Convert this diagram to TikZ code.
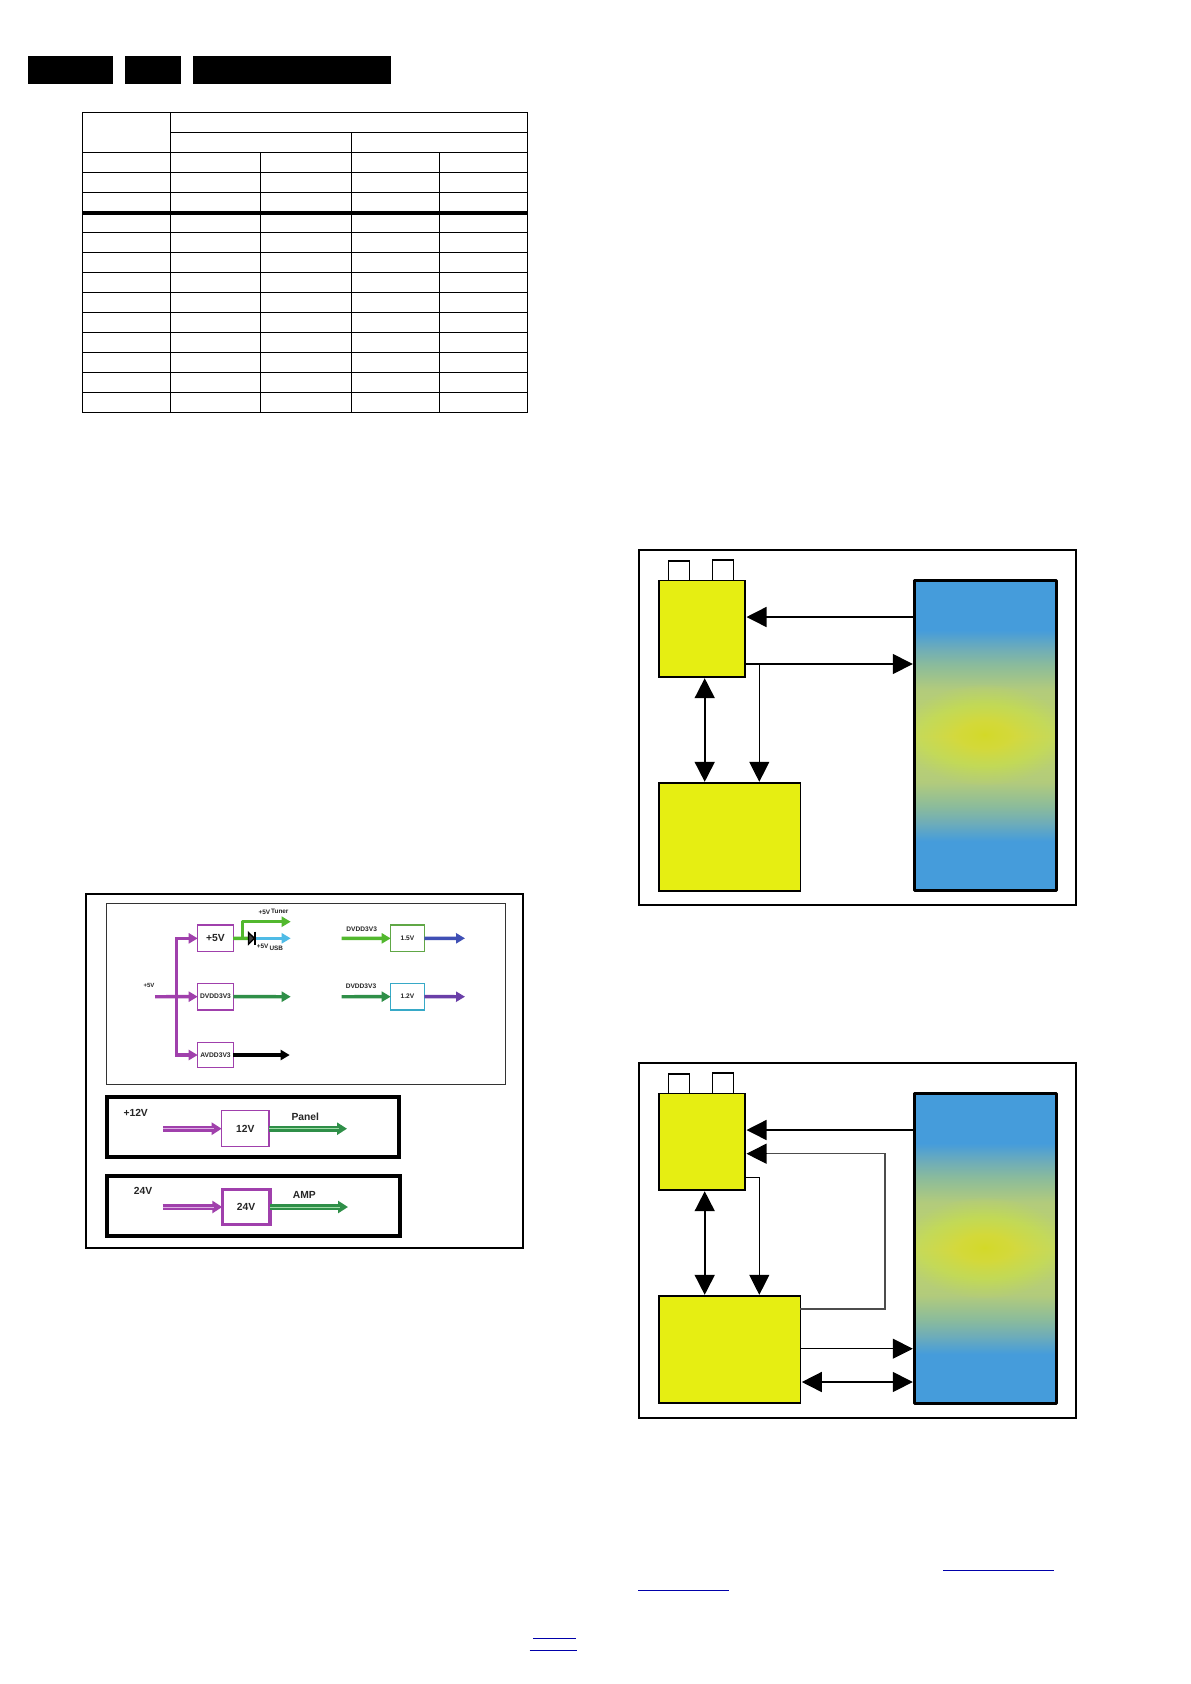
\documentclass[tikz,border=0pt]{standalone}
\usepackage{fontspec}
\setmainfont{Liberation Sans}
\usetikzlibrary{arrows.meta}
\definecolor{yel}{HTML}{E6EE12}
\definecolor{blu}{HTML}{459CDB}
\definecolor{gA}{HTML}{6FADB8}
\definecolor{gB}{HTML}{8ABB9C}
\definecolor{gC}{HTML}{B2CB7C}
\definecolor{gD}{HTML}{C2D666}
\definecolor{glowc}{HTML}{F2F81A}
\definecolor{pur}{HTML}{A040AC}
\definecolor{pale}{HTML}{DDB0E4}
\definecolor{grA}{HTML}{52B82E}
\definecolor{grB}{HTML}{2F8F48}
\definecolor{paleg}{HTML}{A0DCA8}
\definecolor{cya}{HTML}{4FBBE6}
\definecolor{bluo}{HTML}{3F4FB5}
\definecolor{puro}{HTML}{6A3FA8}
\definecolor{linkb}{HTML}{0000AA}
\pgfdeclareverticalshading{panelgrad}{100bp}{color(0bp)=(blu);color(33bp)=(blu);color(36bp)=(gA);color(38.5bp)=(gB);color(42.5bp)=(gC);color(50bp)=(gD);color(57.5bp)=(gC);color(61.5bp)=(gB);color(64bp)=(gA);color(67bp)=(blu);color(100bp)=(blu)}
\newcommand{\pxbox}[6]{\node[#1,inner sep=0pt,outer sep=0pt,minimum width={(#5-#3)*1pt},minimum height={(#6-#4)*1pt}] (#2) at ({(#3+#5)/2},{(#4+#6)/2}) {};}
\newcommand{\pxtext}[7]{\node[#1,inner sep=0pt,outer sep=0pt,minimum width={(#5-#3)*1pt},minimum height={(#6-#4)*1pt}] (#2) at ({(#3+#5)/2},{(#4+#6)/2}) {#7};}
\newcommand{\glow}[3]{%
 \begin{scope}
 \clip (#1.south west) rectangle (#1.north east);
 \foreach \i in {1,...,40}{
  \pgfmathsetmacro{\rx}{80*(\i/40)^1.7}
  \pgfmathsetmacro{\ry}{50*(\i/40)^1.7}
  \fill[glowc,opacity=.032] (#2,#3) ellipse [x radius=\rx pt,y radius=\ry pt];
 }
 \end{scope}
 \draw[line width=2.6pt,line join=round,black] (#1.south west) rectangle (#1.north east);
}
\tikzset{
 headbar/.style={fill=black,draw=none},
 frame/.style={draw=black,line width=1.7pt,fill=white},
 thinframe/.style={draw=black!80,line width=1.3pt,fill=white},
 heavyframe/.style={draw=black,line width=4pt,fill=white},
 ybox/.style={draw=black,line width=1.5pt,fill=yel},
 tabbox/.style={draw=black,line width=1.2pt,fill=white},
 panelbox/.style={shading=panelgrad,draw=none},
 cell/.style={line width=1pt,black},
 big/.style={-{Triangle[length=20pt,width=20pt]},black},
 bigboth/.style={{Triangle[length=20pt,width=20pt]}-{Triangle[length=20pt,width=20pt]},black},
 vbox/.style={draw=pur,line width=1.1pt,fill=white},
 arr/.style={line width=3.4pt,-{Triangle[length=9pt,width=10pt]}},
 plain/.style={line width=3.4pt},
 dbl/.style={line width=6pt,-{Triangle[length=10pt,width=12pt]}},
 inner/.style={line width=.9pt},
 tiny/.style={font=\fontsize{6.6}{7}\selectfont\bfseries,text=black!85},
 mid/.style={font=\fontsize{10.3}{11}\selectfont\bfseries,text=black!85},
 link/.style={draw=linkb,line width=1pt},
}
\begin{document}
\begin{tikzpicture}[x=1pt,y=-1pt]
\useasboundingbox (0,0) rectangle (1191,1684);
\fill[white] (0,0) rectangle (1191,1684);
% header bars
\pxbox{headbar}{hA}{27.9}{56}{112.8}{84}
\pxbox{headbar}{hB}{124.6}{56}{180.6}{84}
\pxbox{headbar}{hC}{193.3}{56}{390.9}{84}
% table
\draw[cell] (82.7,112.3) rectangle (527.3,412.3);
\draw[cell] (170.8,132.3) -- (527.3,132.3);
\foreach \yy in {152.3,172.3,192.3,232.3,252.3,272.3,292.3,312.3,332.3,352.3,372.3,392.3}
  \draw[cell] (82.7,\yy) -- (527.3,\yy);
\draw[line width=3.6pt] (82.7,212.7) -- (527.3,212.7);
\draw[cell] (170.8,112.3) -- (170.8,412.3);
\draw[cell] (351.2,132.3) -- (351.2,412.3);
\draw[cell] (260,152.3) -- (260,412.3);
\draw[cell] (439.4,152.3) -- (439.4,412.3);
% ===== power diagram =====
\pxbox{frame}{pwr}{85.7}{894}{523.3}{1248}
\pxbox{thinframe}{pA}{106.7}{903.3}{505.7}{1084.3}
\pxbox{heavyframe}{pB}{107.3}{1096.7}{399.3}{1157.3}
\pxbox{heavyframe}{pC}{107.3}{1175.7}{400}{1235.7}
\pxtext{vbox,tiny,font=\fontsize{10.3}{11}\selectfont\bfseries}{b5}{197.7}{925}{233.3}{951.7}{+5V}
\pxtext{vbox,tiny,font=\fontsize{6.7}{7}\selectfont\bfseries}{bD}{197.7}{983.3}{233.3}{1010}{DVDD3V3}
\pxtext{vbox,tiny,font=\fontsize{6.7}{7}\selectfont\bfseries}{bV}{197.7}{1042.3}{233.3}{1067.7}{AVDD3V3}
\pxtext{vbox,draw=grA!70!gray,tiny}{bX}{390.7}{925}{424.3}{951.7}{1.5V}
\pxtext{vbox,draw=cya!70!teal,tiny}{bY}{390.7}{983.3}{424.3}{1010}{1.2V}
\pxtext{vbox,mid}{b12}{221.7}{1110.7}{269}{1146.7}{12V}
\pxtext{vbox,line width=3.5pt,mid}{b24}{222.3}{1189.3}{270}{1224.7}{24V}
\coordinate (in5) at (155,996.7);
\coordinate (trk) at (176.7,996.7);
\coordinate (jog) at (242.3,921.7);
\coordinate (tun) at (290.7,921.7);
\coordinate (dia) at (248,938.3);
\coordinate (dio) at (255,938.3);
\coordinate (usb) at (290.7,938.3);
\coordinate (oD) at (290.7,996.7);
\coordinate (oV) at (289.7,1055);
\coordinate (iX) at (341.7,938.3);
\coordinate (oX) at (465,938.3);
\coordinate (iY) at (341.7,996.7);
\coordinate (oY) at (465,996.7);
\coordinate (i12) at (163,1128.7);
\coordinate (o12) at (347,1128.7);
\coordinate (i24) at (162.7,1207);
\coordinate (o24) at (348,1207);
\draw[arr,pur] (in5) -- (bD.west);
\draw[arr,pur] (trk) |- (b5.west);
\draw[arr,pur] (trk) |- (bV.west);
\draw[plain,grA] (b5.east) -- (dia);
\draw[arr,grA,line join=round] (b5.east) -| (jog) -- (tun);
\draw[arr,cya] (dio) -- (usb);
\draw[fill=black!75,draw=black,line width=1.3pt] (248.5,932.5) -- (254.5,938.3) -- (248.5,944.1) -- cycle;
\draw[black,line width=1.8pt] (255.2,931.7) -- (255.2,945);
\draw[arr,grB] (bD.east) -- (oD);
\draw[arr,black] (bV.east) -- (oV);
\draw[arr,grA] (iX) -- (bX.west);
\draw[arr,bluo] (bX.east) -- (oX);
\draw[arr,grB] (iY) -- (bY.west);
\draw[arr,puro] (bY.east) -- (oY);
\draw[dbl,pur] (i12) -- (b12.west);
\draw[inner,pale] (i12) -- ([xshift=-8pt]b12.west);
\draw[dbl,grB] (b12.east) -- (o12);
\draw[inner,paleg] (b12.east) -- ([xshift=-8pt]o12);
\draw[dbl,pur] (i24) -- (b24.west);
\draw[inner,pale] (i24) -- ([xshift=-8pt]b24.west);
\draw[dbl,grB] (b24.east) -- (o24);
\draw[inner,paleg] (b24.east) -- ([xshift=-8pt]o24);
\node[tiny,font=\fontsize{6}{7}\selectfont\bfseries] (l5) at (149,985.7) {+5V};
\node[tiny,font=\fontsize{6.4}{7}\selectfont\bfseries,inner sep=0pt] (lT) at (273.5,912) {+5V\,\raisebox{1pt}{Tuner}};
\node[tiny,font=\fontsize{6.4}{7}\selectfont\bfseries,inner sep=0pt] (lU) at (270,947.5) {+5V\,\raisebox{-2pt}{USB}};
\node[tiny,inner sep=0pt] (lX) at (361.7,929) {DVDD3V3};
\node[tiny,inner sep=0pt] (lY) at (361,986) {DVDD3V3};
\node[mid,inner sep=0pt] (l12) at (135.7,1113) {+12V};
\node[mid,inner sep=0pt] (lP) at (305.3,1117) {Panel};
\node[mid,inner sep=0pt] (l24) at (143,1191) {24V};
\node[mid,inner sep=0pt] (lA) at (304.3,1195) {AMP};
% ===== block diagram 1 =====
\pxbox{frame}{fA}{639}{550}{1076}{905}
\pxbox{tabbox}{tA}{668.7}{561}{689.3}{580.7}
\pxbox{tabbox}{tB}{712.7}{560}{733.3}{580.7}
\pxbox{ybox}{yA}{659}{580.7}{745}{677}
\pxbox{ybox}{zA}{659}{783}{800.3}{891}
\pxbox{panelbox}{pnA}{914.3}{580.7}{1056.7}{890.7}
\glow{pnA}{985}{735}
\draw[big,line width=1.4pt] (pnA.west |- 0,617) -- ([xshift=1.5pt]yA.east |- 0,617);
\draw[big,line width=1.4pt] (yA.east |- 0,664) -- ([xshift=-1.5pt]pnA.west |- 0,664);
\draw[big,line width=1pt] (759.3,664) -- ([yshift=1.2pt]759.3,0 |- zA.north);
\draw[bigboth,line width=1.7pt] ([yshift=-1.2pt]704.7,0 |- yA.south) -- ([yshift=1.2pt]704.7,0 |- zA.north);
% ===== block diagram 2 =====
\pxbox{frame}{fB}{639}{1063}{1076}{1417.7}
\pxbox{tabbox}{tC}{668.7}{1074}{689.3}{1093.7}
\pxbox{tabbox}{tD}{712.7}{1073}{733.3}{1093.7}
\pxbox{ybox}{yB}{659}{1093.7}{745}{1190}
\pxbox{ybox}{zB}{659}{1296}{800.3}{1403}
\pxbox{panelbox}{pnB}{914.3}{1093.7}{1056.7}{1403.7}
\glow{pnB}{985}{1248}
\coordinate (fbk) at (885,1309);
\coordinate (dwn) at (759.3,1177);
\draw[big,line width=1.4pt] (pnB.west |- 0,1130) -- ([xshift=1.5pt]yB.east |- 0,1130);
\draw[line width=1.1pt,black!70] (zB.east |- fbk) -- (fbk) -- (fbk |- 0,1153.7) -- ([xshift=15pt]yB.east |- 0,1153.7);
\draw[big,line width=1.1pt] ([xshift=22pt]yB.east |- 0,1153.7) -- ([xshift=1.5pt]yB.east |- 0,1153.7);
\draw[big,line width=1pt] (yB.east |- dwn) -- (dwn) -- ([yshift=1.2pt]dwn |- zB.north);
\draw[bigboth,line width=1.7pt] ([yshift=-1.2pt]704.7,0 |- yB.south) -- ([yshift=1.2pt]704.7,0 |- zB.north);
\draw[big,line width=1pt] (zB.east |- 0,1348.7) -- ([xshift=-1.5pt]pnB.west |- 0,1348.7);
\draw[bigboth,line width=1.5pt] ([xshift=1.5pt]zB.east |- 0,1382) -- ([xshift=-1.5pt]pnB.west |- 0,1382);
% link rules
\draw[link] (943,1570.3) -- (1054,1570.3);
\draw[link] (638,1590) -- (729,1590);
\draw[link] (533,1638) -- (575.5,1638);
\draw[link] (529.5,1650.5) -- (577,1650.5);
\end{tikzpicture}
\end{document}
